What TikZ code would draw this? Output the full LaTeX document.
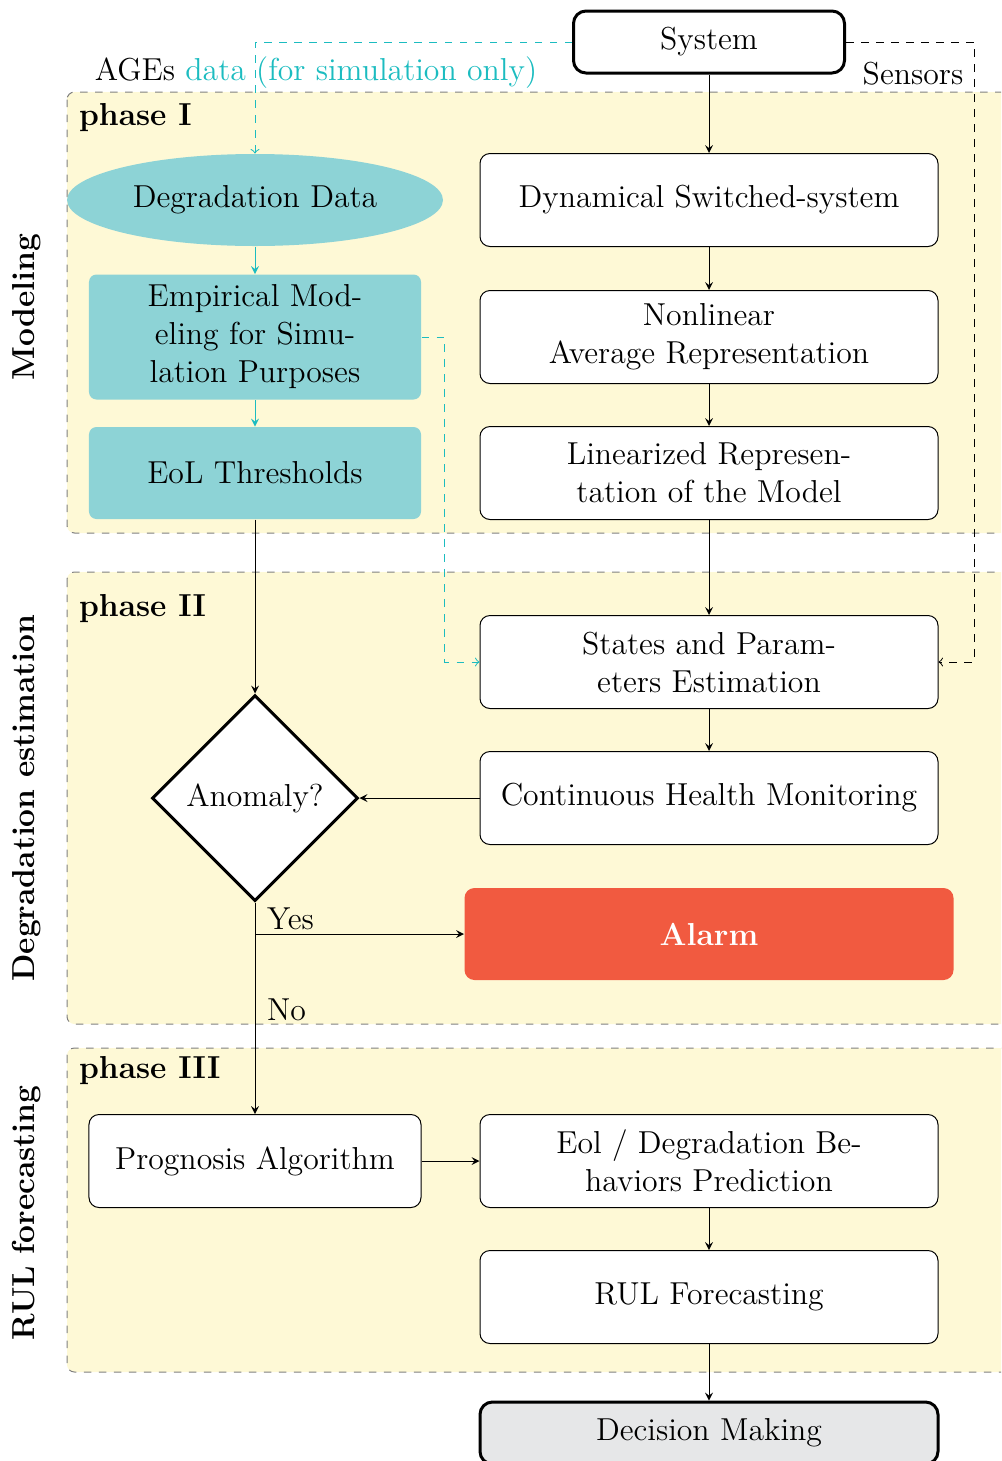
\documentclass[tikz,border=0pt]{standalone}
\usetikzlibrary{shapes.geometric}
\definecolor{phaseyellow}{HTML}{FEF9D6}
\definecolor{datateal}{HTML}{8DD3D6}
\definecolor{simcyan}{HTML}{1CBCC0}
\definecolor{alarmred}{HTML}{F15A40}
\definecolor{decisiongray}{HTML}{E6E7E8}
\tikzset{
  phasebox/.style={draw=gray,dashed,fill=phaseyellow,rounded corners=3pt},
  procbox/.style={draw,fill=white,rounded corners=4pt,minimum width=183.2pt,minimum height=37.2pt,align=center,inner sep=2pt},
  databox/.style={fill=datateal,rounded corners=3pt,minimum width=132.8pt,align=center,inner sep=2pt},
  endbox/.style={draw,very thick,rounded corners=5pt,minimum height=24.8pt,align=center},
  flow/.style={->,>=stealth},
  simflow/.style={->,>=stealth,simcyan},
  simlink/.style={-to,simcyan,dashed},
  sensorlink/.style={-to,dashed},
  phaselabel/.style={anchor=west,font=\bfseries},
  sidelabel/.style={rotate=90,font=\bfseries}
}
\begin{document}
\fontsize{12.7}{15.2}\selectfont
\begin{tikzpicture}[x=0.4pt,y=-0.4pt]
\clip (0,0) rectangle (1001,1461);
\draw[phasebox] (67,92) rectangle (1040,533);
\draw[phasebox] (67,572) rectangle (1040,1024);
\draw[phasebox] (67,1048) rectangle (1040,1372);
\node[phaselabel] (ph1) at (68,118) {phase I};
\node[phaselabel] (ph2) at (68,609) {phase II};
\node[phaselabel] (ph3) at (68,1071) {phase III};
\node[sidelabel] (side1) at (27,307) {Modeling};
\node[sidelabel] (side2) at (27,798) {Degradation estimation};
\node[sidelabel] (side3) at (27,1213) {RUL forecasting};

\node[endbox,minimum width=108.4pt] (system) at (709,42) {System};
\node (ages) at (316,73) {AGEs \textcolor{simcyan}{data (for simulation only)}};
\node (sensors) at (913,74) {Sensors};

\node[ellipse,fill=datateal,minimum width=150.4pt,minimum height=36.8pt,inner sep=0pt] (degdata) at (255,200) {Degradation Data};
\node[databox,minimum height=50pt] (empirical) at (255,337) {Empirical Mod-\\eling for Simu-\\lation Purposes};
\node[databox,minimum height=36.8pt] (eol) at (255,473) {EoL Thresholds};

\node[procbox] (dynamical) at (709,200) {Dynamical Switched-system};
\node[procbox] (nonlinear) at (709,337) {Nonlinear\\Average Representation};
\node[procbox] (linearized) at (709,473) {Linearized Represen-\\tation of the Model};
\node[procbox] (states) at (709,662) {States and Param-\\eters Estimation};
\node[procbox] (health) at (709,798) {Continuous Health Monitoring};
\node[diamond,draw,very thick,fill=white,aspect=1,minimum width=82.4pt,minimum height=82.4pt,inner sep=0pt] (anomaly) at (255,798) {Anomaly?};
\node[fill=alarmred,rounded corners=4pt,minimum width=195.6pt,minimum height=36.8pt,text=white,font=\bfseries] (alarm) at (709,934) {Alarm};

\node[procbox,minimum width=132.8pt] (prognosis) at (255,1161) {Prognosis Algorithm};
\node[procbox] (prediction) at (709,1161) {Eol / Degradation Be-\\haviors Prediction};
\node[procbox] (rul) at (709,1297) {RUL Forecasting};
\node[endbox,fill=decisiongray,minimum width=183.2pt] (decision) at (709,1433) {Decision Making};

\draw[flow] (system) -- (dynamical);
\draw[flow] (dynamical) -- (nonlinear);
\draw[flow] (nonlinear) -- (linearized);
\draw[flow] (linearized) -- (states);
\draw[flow] (states) -- (health);
\draw[flow] (health) -- (anomaly);
\draw[flow] (eol) -- (anomaly);
\draw[flow] (anomaly) -- (prognosis);
\coordinate (yes) at (anomaly.south |- alarm.west);
\draw[flow] (yes) -- (alarm.west);
\node[anchor=west] (yeslabel) at (256,919) {Yes};
\node[anchor=west] (nolabel) at (256,1010) {No};
\draw[flow] (prognosis) -- (prediction);
\draw[flow] (prediction) -- (rul);
\draw[flow] (rul) -- (decision);

\draw[simflow] (degdata) -- (empirical);
\draw[simflow] (empirical) -- (eol);
\draw[simlink] (system.west) -| (degdata.north);
\draw[simlink] (empirical.east) -- ++(23,0) |- (states.west);
\draw[sensorlink] (system.east) -- ++(128,0) |- (states.east);
\end{tikzpicture}
\end{document}
